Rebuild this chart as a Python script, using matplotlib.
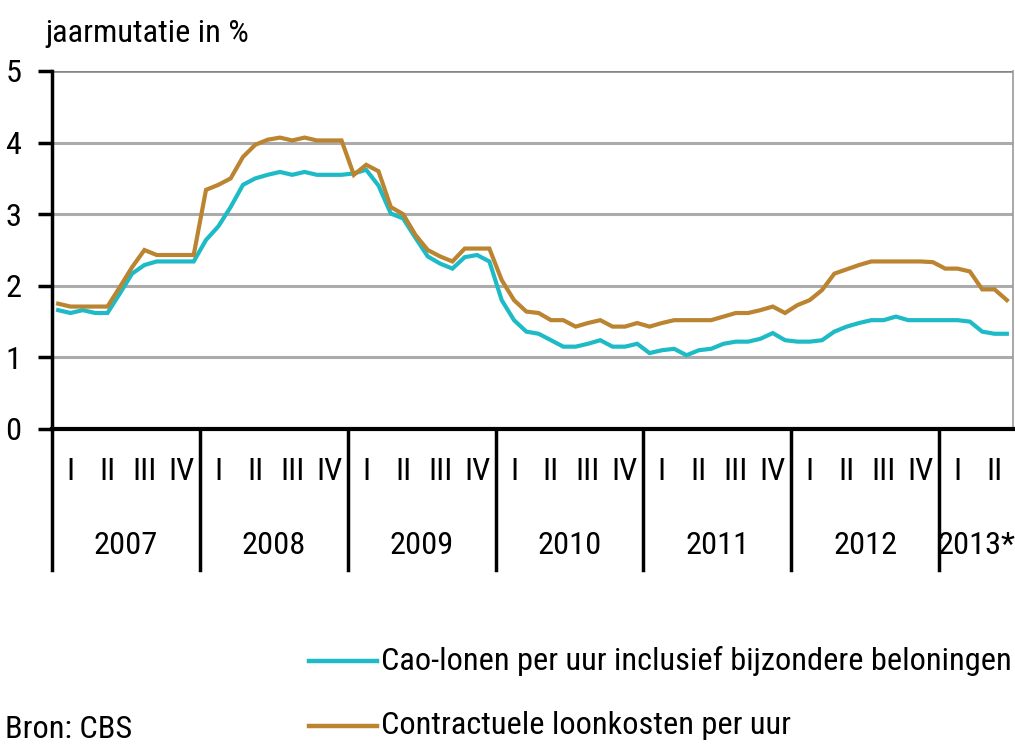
import matplotlib
matplotlib.use("Agg")
import matplotlib.pyplot as plt
from matplotlib import font_manager
from matplotlib.lines import Line2D
import matplotlib.transforms as mtransforms
import numpy as np

# monthly year-on-year change, Jan 2007 - Jun 2013
cao_lonen = [
    1.66, 1.62, 1.66, 1.62, 1.62, 1.89, 2.17, 2.29, 2.34, 2.34, 2.34, 2.34,
    2.64, 2.83, 3.10, 3.41, 3.50, 3.55, 3.59, 3.55, 3.59, 3.55, 3.55, 3.55,
    3.57, 3.62, 3.40, 3.01, 2.94, 2.67, 2.41, 2.31, 2.24, 2.40, 2.43, 2.34,
    1.80, 1.52, 1.36, 1.33, 1.24, 1.15, 1.15, 1.19, 1.24, 1.15, 1.15, 1.19,
    1.06, 1.10, 1.12, 1.03, 1.10, 1.12, 1.19, 1.22, 1.22, 1.26, 1.34, 1.24,
    1.22, 1.22, 1.24, 1.36, 1.43, 1.48, 1.52, 1.52, 1.57, 1.52, 1.52, 1.52,
    1.52, 1.52, 1.50, 1.36, 1.33, 1.33,
]
loonkosten = [
    1.75, 1.71, 1.71, 1.71, 1.71, 1.98, 2.26, 2.50, 2.43, 2.43, 2.43, 2.43,
    3.34, 3.41, 3.50, 3.80, 3.97, 4.04, 4.07, 4.03, 4.07, 4.03, 4.03, 4.03,
    3.55, 3.69, 3.60, 3.10, 3.00, 2.71, 2.50, 2.41, 2.34, 2.52, 2.52, 2.52,
    2.08, 1.80, 1.64, 1.62, 1.52, 1.52, 1.43, 1.48, 1.52, 1.43, 1.43, 1.48,
    1.43, 1.48, 1.52, 1.52, 1.52, 1.52, 1.57, 1.62, 1.62, 1.66, 1.71, 1.62,
    1.73, 1.80, 1.94, 2.17, 2.23, 2.29, 2.34, 2.34, 2.34, 2.34, 2.34, 2.33,
    2.24, 2.24, 2.20, 1.95, 1.95, 1.80,
]
years = ["2007", "2008", "2009", "2010", "2011", "2012", "2013*"]
quarters = ["I", "II", "III", "IV"]
labels = ["Cao-lonen per uur inclusief bijzondere beloningen",
          "Contractuele loonkosten per uur"]

teal = "#1EBBC6"
brown = "#BB8431"

# look for a narrow font, the original uses Arial Narrow
names = {f.name for f in font_manager.fontManager.ttflist}
family, stretch = "Liberation Sans", "normal"
for cand in ["Liberation Sans Narrow", "Arial Narrow", "Roboto Condensed",
             "DejaVu Sans Condensed", "Noto Sans Condensed", "Open Sans Condensed"]:
    if cand in names:
        family = cand
        break
else:
    for f in font_manager.fontManager.ttflist:
        if f.stretch == "condensed" and f.style == "normal" and f.weight in (400, "normal", "regular"):
            family, stretch = f.name, "condensed"
            break
plt.rcParams["font.family"] = [family, "DejaVu Sans"]
plt.rcParams["font.stretch"] = stretch

n = len(cao_lonen)
x = np.arange(n)

fig = plt.figure(figsize=(10.15, 7.45), dpi=100)
ax = fig.add_axes([52 / 1015, 1 - 429 / 745, (1013 - 52) / 1015, (429 - 71) / 745])

# fit the font size so the long legend label spans ~628 px like the original
renderer = fig.canvas.get_renderer()
probe = fig.text(0, 0, labels[0], fontsize=20)
w = probe.get_window_extent(renderer).width
probe.remove()
fs = min(25, 20 * 628 / w)

for v in range(1, 5):
    ax.axhline(v, color="#ABABAB", lw=2.2, zorder=1)
ax.axhline(5, color="#868686", lw=2.6, zorder=1)

ax.plot(x, loonkosten, color=brown, lw=3.0, zorder=3, solid_joinstyle="miter")
ax.plot(x, cao_lonen, color=teal, lw=3.0, zorder=2, solid_joinstyle="miter")

ax.set_xlim(-0.5, n - 0.5)
ax.set_ylim(0, 5)
ax.set_yticks(range(6))
ax.set_yticklabels([str(v) for v in range(6)], fontsize=fs)
ax.tick_params(axis="y", length=10, width=2.5, pad=12, direction="out")
ax.set_xticks([])

for s in ["top", "bottom"]:
    ax.spines[s].set_visible(False)
ax.spines["left"].set_linewidth(2.5)
ax.spines["right"].set_color("#999999")
ax.spines["right"].set_linewidth(1.2)
ax.axhline(0, color="black", lw=3, zorder=4, clip_on=False)

# category axis below plot
trans = mtransforms.blended_transform_factory(ax.transData, ax.transAxes)
y_bottom = (429 - 570) / 358
for k in range(len(years)):
    x0 = -0.5 + 12 * k
    ax.plot([x0, x0], [0, y_bottom], color="black", lw=2.5, transform=trans, clip_on=False)
    x1 = min(x0 + 12, n - 0.5)
    ax.text((x0 + x1) / 2, (429 - 545) / 358, years[k], transform=trans,
            ha="center", va="center", fontsize=fs)
    for q, qn in enumerate(quarters):
        xc = x0 + 3 * q + 1.5
        if xc > n - 0.5:
            break
        ax.text(xc, (429 - 471) / 358, qn, transform=trans,
                ha="center", va="center", fontsize=fs)

fig.text(45 / 1015, 1 - 33 / 745, "jaarmutatie in %", fontsize=fs, va="center", ha="left")
fig.text(5 / 1015, 1 - 729 / 745, "Bron: CBS", fontsize=fs, va="center", ha="left")

for i, (lab, col) in enumerate(zip(labels, [teal, brown])):
    yy = 1 - (661 + 65 * i) / 745
    fig.add_artist(Line2D([309 / 1015, 377 / 1015], [yy, yy], color=col, lw=3.2))
    fig.text(381 / 1015, yy, lab, fontsize=fs, va="center", ha="left")

fig.savefig("out.png", dpi=100)
